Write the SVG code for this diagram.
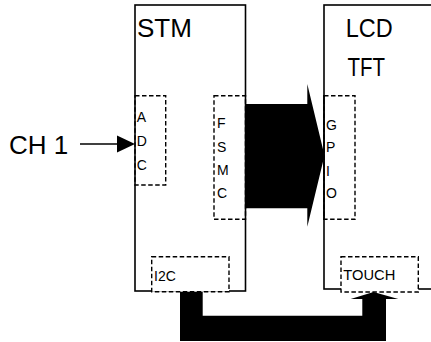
<svg xmlns="http://www.w3.org/2000/svg" width="431" height="342" viewBox="0 0 431 342">
<defs>
<style>
.box{fill:none;stroke:#000;stroke-width:1.6}
.port{fill:none;stroke:#000;stroke-width:1.4;stroke-dasharray:4.5 2.5}
.portw{fill:#fff;stroke:#000;stroke-width:1.4;stroke-dasharray:4.5 2.5}
.big{font-family:"Liberation Sans",Arial,sans-serif;font-size:26px;fill:#000}
.sm{font-family:"Liberation Sans",Arial,sans-serif;font-size:14px;fill:#000}
.solid{fill:#000;stroke:none}
</style>
</defs>
<rect width="431" height="342" fill="#fff"/>
<g id="connectors">
<path class="solid" d="M245,104 H307.3 V84 L324.5,155.5 L307.3,226.7 V208.3 H245 Z"/>
<path class="solid" d="M180,291.7 H202.7 V315.7 H362.3 V299 H350.7 L373.5,292 L398.3,299 H386 V341 H180 Z"/>
<line x1="80" y1="144" x2="118" y2="144" stroke="#000" stroke-width="1.4"/>
<path class="solid" d="M117,135.5 L135,144 L117,152.5 Z"/>
</g>
<g id="stm">
<rect class="box" x="135" y="5" width="110.5" height="286"/>
<text class="big" x="137" y="36.7">STM</text>
</g>
<g id="lcd">
<rect class="box" x="324" y="5" width="130" height="284"/>
<text class="big" x="345.7" y="36.7" textLength="47" lengthAdjust="spacingAndGlyphs">LCD</text>
<text class="big" x="347.5" y="76" textLength="37.5" lengthAdjust="spacingAndGlyphs">TFT</text>
</g>
<g id="ch1">
<text class="big" x="9" y="154">CH 1</text>
</g>
<g id="adc">
<rect class="port" x="135" y="95.7" width="30.7" height="89.3"/>
<text class="sm" x="136.7" y="122.3">A</text>
<text class="sm" x="136.7" y="145.7">D</text>
<text class="sm" x="136.7" y="169.5">C</text>
</g>
<g id="fsmc">
<rect class="port" x="214" y="95.7" width="31.5" height="123.5"/>
<text class="sm" x="217" y="127.7">F</text>
<text class="sm" x="217" y="151.5">S</text>
<text class="sm" x="217" y="175">M</text>
<text class="sm" x="217" y="198.3">C</text>
</g>
<g id="gpio">
<rect class="port" x="324" y="95.7" width="31" height="123.6"/>
<line x1="324" y1="95" x2="324" y2="220" stroke="#000" stroke-width="1.6"/>
<text class="sm" x="326" y="129.5">G</text>
<text class="sm" x="326" y="152">P</text>
<text class="sm" x="326" y="175.5">I</text>
<text class="sm" x="326" y="198.3">O</text>
</g>
<g id="i2c">
<rect class="portw" x="151.7" y="256.7" width="77.3" height="35"/>
<text class="sm" x="154" y="280.7">I2C</text>
</g>
<g id="touch">
<rect class="portw" x="341" y="256.7" width="77.3" height="35.3"/>
<text class="sm" x="343.3" y="279.5" textLength="52" lengthAdjust="spacingAndGlyphs">TOUCH</text>
</g>
</svg>
